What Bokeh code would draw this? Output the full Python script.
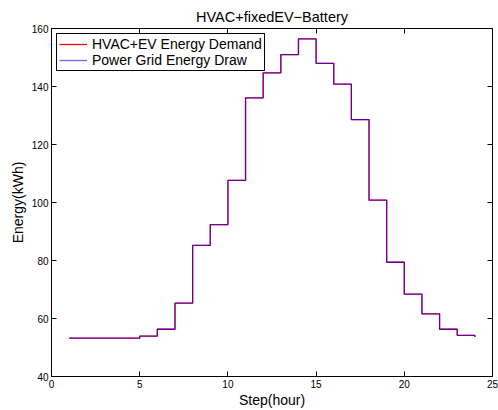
from bokeh.plotting import figure
from bokeh.models import LinearAxis, Range1d, FixedTicker, Legend, LegendItem
from bokeh.embed import file_html
from bokeh.resources import INLINE

steps = list(range(1, 25))
demand = [53.2, 53.2, 53.2, 53.2, 53.9, 56.3, 65.3, 85.2, 92.4, 107.6, 136.1, 144.7,
          151.0, 156.4, 148.0, 140.8, 128.6, 100.8, 79.4, 68.4, 61.6, 56.3, 54.2, 53.6]
grid_draw = [53.2, 53.2, 53.2, 53.2, 53.9, 56.3, 65.3, 85.2, 92.4, 107.6, 136.1, 144.7,
             151.0, 156.4, 148.0, 140.8, 128.6, 100.8, 79.4, 68.4, 61.6, 56.3, 54.2, 53.6]
x_ticks = [0, 5, 10, 15, 20, 25]
y_ticks = [40, 60, 80, 100, 120, 140, 160]

FONT = "Liberation Sans"

p = figure(width=498, height=410, output_backend="svg", toolbar_location=None,
           x_range=Range1d(0, 25), y_range=Range1d(40, 160),
           min_border_left=51, min_border_right=6, min_border_top=28, min_border_bottom=34,
           title="HVAC+fixedEV\u2212Battery")
p.title.align = "center"
p.title.text_font = FONT
p.title.text_font_size = "14.5px"
p.title.text_font_style = "normal"
p.title.text_color = "black"
p.title.offset = 0
p.title.standoff = 8

p.grid.visible = False
p.outline_line_color = "black"
p.outline_line_width = 1
p.outline_line_alpha = 1
p.background_fill_color = "white"
p.border_fill_color = "white"

for ax in p.xaxis:
    ax.ticker = FixedTicker(ticks=x_ticks)
    ax.axis_label = "Step(hour)"
for ax in p.yaxis:
    ax.ticker = FixedTicker(ticks=y_ticks)
    ax.axis_label = "Energy(kWh)"
for ax in list(p.xaxis) + list(p.yaxis):
    ax.major_tick_in = 5
    ax.major_tick_out = 0
    ax.minor_tick_line_color = None
    ax.axis_line_color = "black"
    ax.major_tick_line_color = "black"
    ax.major_label_text_font = FONT
    ax.major_label_text_font_size = "10px"
    ax.major_label_text_color = "black"
    ax.axis_label_text_font = FONT
    ax.axis_label_text_font_size = "14px"
    ax.axis_label_text_font_style = "normal"
    ax.axis_label_text_color = "black"
p.xaxis.major_label_standoff = 3
p.xaxis.axis_label_standoff = 1
p.yaxis.major_label_standoff = 3
p.yaxis.axis_label_standoff = 3

top_ax = LinearAxis(ticker=FixedTicker(ticks=x_ticks), major_tick_in=5, major_tick_out=0,
                    minor_tick_line_color=None, major_tick_line_color="black",
                    major_label_overrides={t: "" for t in x_ticks},
                    major_label_standoff=0, axis_line_color=None)
right_ax = LinearAxis(ticker=FixedTicker(ticks=y_ticks), major_tick_in=5, major_tick_out=0,
                      minor_tick_line_color=None, major_tick_line_color="black",
                      major_label_overrides={t: "" for t in y_ticks},
                      major_label_standoff=0, axis_line_color=None)
p.add_layout(top_ax, "above")
p.add_layout(right_ax, "right")

r1 = p.step(steps, demand, mode="after", line_color="#ff0000", line_width=1.3)
r2 = p.step(steps, grid_draw, mode="after", line_color="#0000ff", line_width=1.3, line_alpha=0.6)

legend = Legend(items=[LegendItem(label="HVAC+EV Energy Demand", renderers=[r1]),
                       LegendItem(label="Power Grid Energy Draw", renderers=[r2])],
                location="top_left")
legend.label_text_font = FONT
legend.label_text_font_size = "14px"
legend.label_text_color = "black"
legend.border_line_color = "black"
legend.border_line_alpha = 1
legend.border_line_width = 1.5
legend.background_fill_alpha = 1
legend.margin = 5
legend.padding = 2
legend.spacing = 0
legend.glyph_width = 28
legend.glyph_height = 16
legend.label_height = 16
legend.label_standoff = 5
p.add_layout(legend)

open("out.html", "w").write(file_html(p, INLINE))
